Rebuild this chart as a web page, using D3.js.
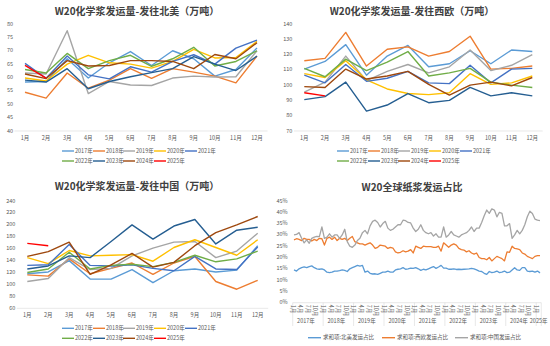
<!DOCTYPE html>
<html>
<head>
<meta charset="utf-8">
<script src="https://d3js.org/d3.v7.min.js"></script>
<style>
  body { margin: 0; background: #fff; }
  text { font-family: "Noto Sans CJK SC", "Noto Sans", sans-serif; fill: #595959; }
</style>
</head>
<body>
<script>
var months = ['1月','2月','3月','4月','5月','6月','7月','8月','9月','10月','11月','12月'];
var years = ['2017年','2018年','2019年','2020年','2021年','2022年','2023年','2024年','2025年'];

// 发往北美 2017..2025
var naValues = [
  [58.3, 58.5, 67.0, 59.8, 65.5, 69.7, 64.5, 70.0, 67.0, 60.5, 63.0, 71.0],
  [54.5, 52.3, 61.7, 56.0, 59.0, 63.3, 59.7, 63.3, 62.0, 60.5, 58.0, 68.0],
  [61.7, 61.3, 77.5, 54.0, 58.5, 57.2, 57.0, 59.8, 60.5, 60.2, 60.3, 70.0],
  [59.8, 58.7, 65.0, 68.3, 65.5, 65.0, 63.5, 66.0, 70.5, 67.3, 67.5, 73.5],
  [65.3, 59.7, 68.0, 61.0, 59.5, 64.0, 62.0, 66.0, 68.5, 65.0, 71.0, 74.0],
  [63.0, 61.7, 69.0, 63.3, 66.3, 68.3, 64.2, 67.0, 71.3, 64.3, 66.0, 70.0],
  [59.0, 58.3, 63.3, 55.8, 58.5, 60.3, 61.8, 63.3, 67.8, 65.0, 62.6, 68.0],
  [61.3, 59.6, 66.3, 64.3, 64.5, 66.3, 66.3, 66.0, 63.3, 68.6, 67.0, 73.0],
  [64.5, 59.8]
];
// 发往西欧
var weValues = [
  [110.5, 115.5, 126.5, 106.5, 119.0, 126.0, 112.0, 114.0, 122.5, 114.0, 123.0, 122.0],
  [116.0, 117.5, 134.5, 112.5, 123.5, 125.0, 119.0, 122.0, 132.0, 110.5, 111.0, 112.5],
  [95.5, 102.0, 119.0, 103.0, 109.0, 113.5, 108.0, 112.0, 123.0, 109.5, 113.0, 120.0],
  [107.5, 105.0, 116.0, 103.5, 97.5, 94.5, 93.8, 95.0, 107.5, 100.5, 101.5, 106.0],
  [106.5, 101.5, 113.5, 102.5, 104.5, 109.0, 101.5, 101.0, 113.0, 101.5, 110.5, 111.0],
  [111.0, 105.5, 117.0, 109.5, 115.0, 122.0, 106.0, 108.0, 111.0, 102.0, 100.0, 98.5],
  [90.5, 92.5, 102.0, 83.0, 87.0, 94.5, 88.5, 90.0, 98.5, 93.0, 95.0, 93.0],
  [99.0, 98.5, 110.5, 104.0, 106.0, 109.0, 100.5, 93.5, 100.0, 102.0, 99.5, 105.0],
  [95.0, 93.0]
];
// 发往中国
var cnValues = [
  [118, 121, 140, 109, 109, 125, 103, 123, 126, 121, 124, 165],
  [116, 114, 143, 118, 127, 136, 117, 136, 147, 105, 92, 107],
  [105, 110, 145, 125, 127, 148, 161, 171, 172, 145, 156, 186],
  [145, 135, 157, 148, 149, 150, 139, 162, 175, 162, 149, 175],
  [132, 133, 167, 132, 131, 133, 127, 123, 147, 126, 125, 163],
  [120, 126, 154, 126, 132, 134, 130, 137, 149, 138, 143, 156],
  [126, 131, 148, 145, 172, 200, 176, 198, 209, 168, 191, 196],
  [147, 155, 171, 117, 133, 152, 129, 137, 165, 187, 200, 214],
  [169, 165]
];

// 全球发运占比 (%), 2017-01 .. 2025-02
var shareNA = [
  14.5, 14.0, 15.0, 15.5, 15.8, 15.5, 16.0, 16.3, 15.5, 15.0, 14.8, 15.0,
  14.5, 13.5, 13.3, 13.5, 14.0, 14.0, 14.2, 14.5, 14.3, 13.8, 15.0, 15.5,
  16.0, 16.5, 16.2, 16.5, 13.5, 14.0, 13.0, 12.7, 12.8, 12.5, 13.0, 13.5,
  13.5, 14.0, 13.5, 13.5, 14.5, 14.8, 15.0, 15.5, 14.8, 15.0, 15.3, 15.2,
  15.5, 15.0, 14.3, 14.8, 14.5, 15.0, 15.5, 16.0, 15.2, 15.8, 16.5, 15.3,
  15.3, 14.8, 14.8, 15.0, 14.7, 14.8, 14.7, 14.8, 14.9, 15.0, 15.2, 15.0,
  14.5, 14.0, 13.8, 13.0, 12.5, 13.8, 13.3, 13.5, 14.0, 13.3, 13.5, 14.0,
  13.3, 13.5, 14.5, 15.5, 14.5, 14.3, 15.5, 15.5, 14.0, 13.8, 14.0, 13.5,
  14.0, 13.2
];
var shareWE = [
  27.8, 28.3, 28.0, 27.5, 28.5, 28.0, 28.0, 27.3, 28.0, 27.5, 28.5, 28.3,
  25.5, 28.5, 29.0, 28.0, 29.0, 27.5, 28.5, 28.0, 28.5, 27.5, 28.5, 29.3,
  27.0, 26.5, 26.0, 26.0, 25.5, 26.0, 26.5, 25.5, 24.0, 24.5, 25.5, 25.3,
  25.0, 24.0, 24.5, 24.2, 22.5, 22.0, 22.3, 23.0, 22.5, 22.8, 23.5, 22.0,
  25.0, 24.5, 24.0, 25.0, 24.8, 24.8, 24.8, 24.5, 24.5, 25.0, 22.8, 26.5,
  25.5, 24.5, 25.5, 26.0, 25.5, 24.0, 23.5, 23.3, 22.5, 23.0, 22.0, 21.5,
  22.0, 20.0, 19.5, 19.5, 19.0, 20.0, 18.5, 19.5, 20.5, 20.0, 19.5, 18.5,
  22.5, 22.3, 25.0, 24.0, 23.8, 23.5, 22.0, 21.5, 20.5, 20.0, 19.5, 20.5,
  20.8, 20.8
];
var shareCN = [
  30.0, 30.2, 31.0, 28.5, 26.5, 27.8, 26.3, 28.5, 29.0, 29.3, 29.2, 33.5,
  28.5, 29.0, 30.5, 29.0, 30.0, 30.0, 28.5, 30.0, 32.5, 27.0, 25.0, 24.5,
  25.5, 27.5, 28.5, 31.0, 32.0, 30.5, 34.0, 36.0, 36.5, 35.5, 33.5, 35.0,
  36.0, 33.0, 32.0, 32.5, 33.5, 34.5, 34.5, 36.5, 36.3, 35.5, 35.3, 33.0,
  31.5, 32.5, 34.5, 32.0, 31.0, 30.5, 31.0, 29.5, 30.5, 29.0, 29.0, 33.5,
  29.0, 30.0, 31.5, 30.0, 29.5, 29.0, 30.0, 30.5, 31.0, 32.0, 33.5, 31.5,
  33.0, 33.0, 35.5, 38.5, 41.0, 39.5, 41.5, 41.0, 38.0, 40.0, 39.5, 34.0,
  34.0, 35.0, 28.5, 30.0, 32.0, 30.5, 32.0, 34.5, 38.0, 40.5, 39.5, 37.0,
  36.5, 36.3
];
var shareNames = ['求和项:北美发运占比', '求和项:西欧发运占比', '求和项:中国发运占比'];
var monthTickLabels = ['1月', '4月', '7月', '10月'];

var yearColors = ['#5B9BD5','#ED7D31','#A5A5A5','#FFC000','#4472C4','#70AD47','#255E91','#9E480E','#FF0000'];

var svg = d3.select('body').append('svg').attr('width', 550).attr('height', 346);

function monthlyPanel(ox, oy, title, values, yDom, yStep, xr, yr, monthY, legY) {
  var g = svg.append('g').attr('transform', 'translate(' + ox + ',' + oy + ')');
  var x = d3.scalePoint().domain(months).range(xr);
  var y = d3.scaleLinear().domain(yDom).range(yr);

  g.append('text').attr('x', 137).attr('y', 12).attr('text-anchor', 'middle')
    .attr('dominant-baseline', 'middle').style('font-size', '10px').style('font-weight', 'bold')
    .style('fill', '#404040').text(title);

  var ticks = d3.range(yDom[0], yDom[1] + 0.01, yStep);
  g.selectAll('.yt').data(ticks).enter().append('text')
    .attr('x', xr[0] - 12).attr('y', function(d){ return y(d); })
    .attr('text-anchor', 'end').attr('dominant-baseline', 'middle')
    .style('font-size', '5.5px').text(function(d){ return d; });

  var step = x.step();
  g.append('line').attr('x1', xr[0] - step/2).attr('x2', xr[1] + step/2)
    .attr('y1', y(yDom[0])).attr('y2', y(yDom[0])).attr('stroke', '#d9d9d9').attr('stroke-width', 0.6);

  g.selectAll('.xt').data(months).enter().append('text')
    .attr('x', function(d){ return x(d); }).attr('y', monthY)
    .attr('text-anchor', 'middle').attr('dominant-baseline', 'middle')
    .style('font-size', '5.5px').text(function(d){ return d; });

  var line = d3.line().x(function(d, i){ return x(months[i]); }).y(function(d){ return y(d); });
  values.forEach(function(vals, k) {
    g.append('path').attr('d', line(vals)).attr('fill', 'none')
      .attr('stroke', yearColors[k]).attr('stroke-width', 1.4).attr('stroke-linejoin', 'round');
  });

  var legX = [62, 93, 123, 154, 185];
  years.forEach(function(yl, k) {
    var lx = legX[k % 5], ly = legY + (k < 5 ? 0 : 10);
    g.append('line').attr('x1', lx).attr('x2', lx + 12).attr('y1', ly).attr('y2', ly)
      .attr('stroke', yearColors[k]).attr('stroke-width', 1.4);
    g.append('text').attr('x', lx + 13).attr('y', ly).attr('dominant-baseline', 'middle')
      .style('font-size', '5.5px').text(yl);
  });
}

monthlyPanel(0, 0, 'W20化学浆发运量-发往北美（万吨）', naValues, [40, 80], 5, [25, 257], [131, 24], 138.5, 151);
monthlyPanel(275, 0, 'W20化学浆发运量-发往西欧（万吨）', weValues, [70, 140], 10, [29.3, 257.3], [131, 24], 138.5, 151);
monthlyPanel(0, 175, 'W20化学浆发运量-发往中国（万吨）', cnValues, [60, 240], 20, [27.3, 257.7], [133.3, 26], 140.7, 153.3);

// share panel
(function() {
  var g = svg.append('g').attr('transform', 'translate(275,175)');
  var n = shareNA.length;
  var idx = d3.range(n);
  var x = d3.scalePoint().domain(idx).range([19, 265]);
  var step = x.step();
  var y = d3.scaleLinear().domain([0, 45]).range([127.7, 26]);

  g.append('text').attr('x', 137).attr('y', 13).attr('text-anchor', 'middle')
    .attr('dominant-baseline', 'middle').style('font-size', '10px').style('font-weight', 'bold')
    .style('fill', '#404040').text('W20全球纸浆发运占比');

  g.selectAll('.yt').data(d3.range(0, 46, 5)).enter().append('text')
    .attr('x', 12.7).attr('y', function(d){ return y(d); })
    .attr('text-anchor', 'end').attr('dominant-baseline', 'middle')
    .style('font-size', '5.5px').text(function(d){ return d + '%'; });

  var x0 = x(0) - step/2, x1 = x(n - 1) + step/2;
  g.append('line').attr('x1', x0).attr('x2', x1).attr('y1', y(0)).attr('y2', y(0))
    .attr('stroke', '#d9d9d9').attr('stroke-width', 0.6);

  // year separators and labels
  var yearStarts = d3.range(0, n, 12);
  yearStarts.concat([n]).forEach(function(s) {
    var xx = s < n ? x(s) - step/2 : x1;
    g.append('line').attr('x1', xx).attr('x2', xx).attr('y1', y(0)).attr('y2', 151)
      .attr('stroke', '#d9d9d9').attr('stroke-width', 0.6);
  });
  yearStarts.forEach(function(s, k) {
    var e = Math.min(s + 12, n);
    var full = e - s === 12;
    var xm = full ? (x(s) + x(e - 1)) / 2 - 2 : 272.5;
    g.append('text').attr('x', xm).attr('y', 146.7).attr('text-anchor', full ? 'middle' : 'end')
      .attr('dominant-baseline', 'middle').style('font-size', '5.5px').text(years[k]);
  });
  // month tick labels, vertical
  idx.filter(function(i){ return i % 3 === 0; }).forEach(function(i) {
    var lbl = monthTickLabels[(i % 12) / 3];
    g.append('text').attr('transform', 'translate(' + (x(i) - 2) + ',' + (y(0) + 2) + ') rotate(90)')
      .attr('dominant-baseline', 'middle').style('font-size', '5.5px').text(lbl);
  });

  var line = d3.line().x(function(d, i){ return x(i); }).y(function(d){ return y(d); });
  var shareData = [shareNA, shareWE, shareCN];
  var shareColors = ['#5B9BD5', '#ED7D31', '#A5A5A5'];
  shareData.forEach(function(vals, k) {
    g.append('path').attr('d', line(vals)).attr('fill', 'none')
      .attr('stroke', shareColors[k]).attr('stroke-width', 1.3).attr('stroke-linejoin', 'round');
  });

  var legX = [33, 107, 180];
  shareNames.forEach(function(nm, k) {
    g.append('line').attr('x1', legX[k]).attr('x2', legX[k] + 13).attr('y1', 162.7).attr('y2', 162.7)
      .attr('stroke', shareColors[k]).attr('stroke-width', 1.4);
    g.append('text').attr('x', legX[k] + 15).attr('y', 162.7).attr('dominant-baseline', 'middle')
      .style('font-size', '5.5px').text(nm);
  });
})();
</script>
</body>
</html>
